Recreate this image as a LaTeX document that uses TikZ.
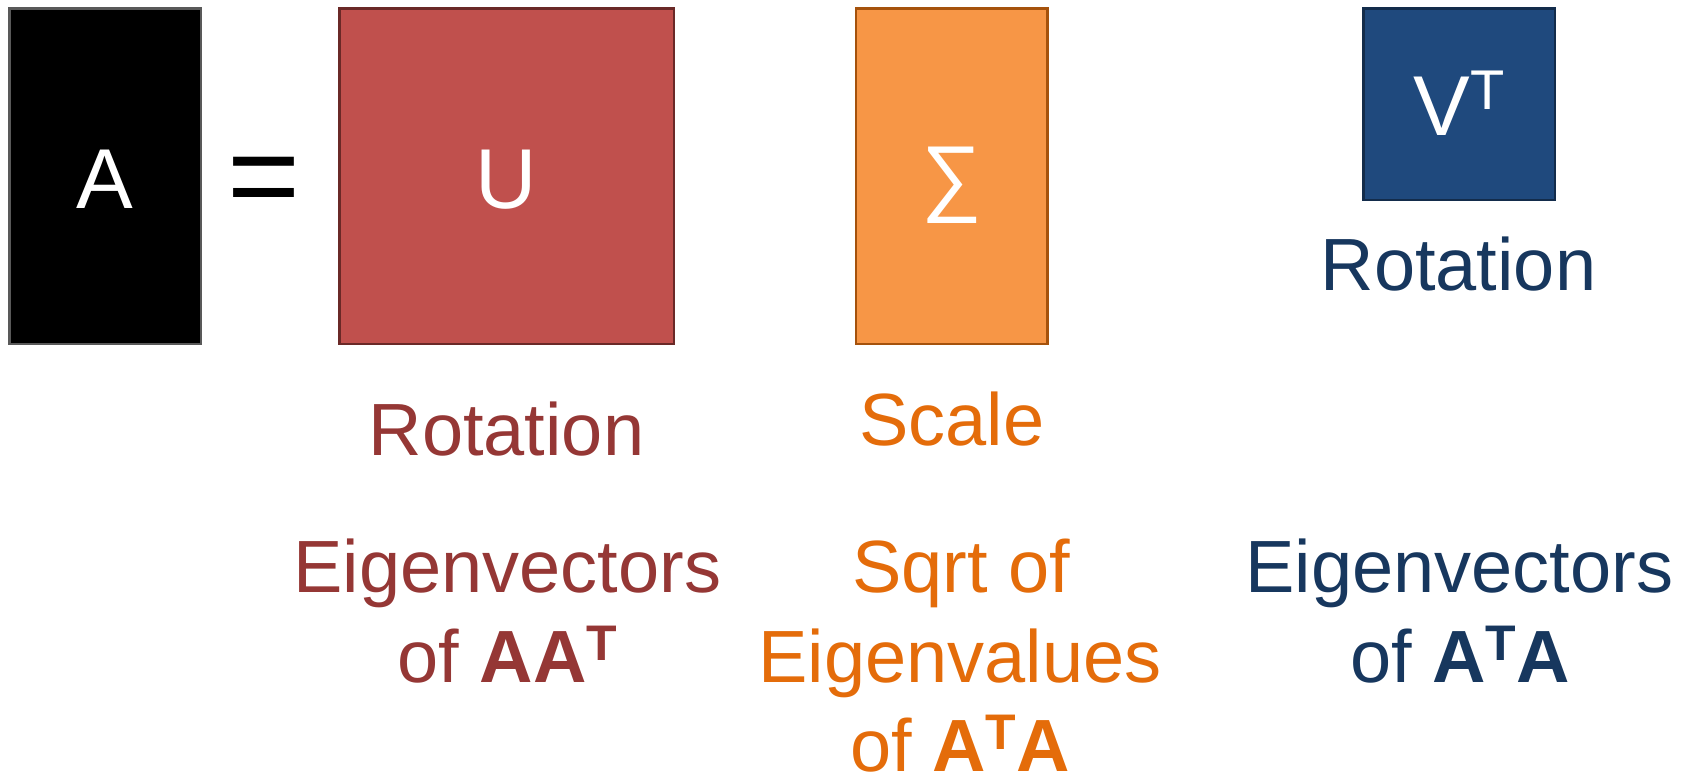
\documentclass[tikz,border=0pt]{standalone}
\usepackage{fontspec}
\setmainfont{Liberation Sans}
\newcommand\fsz[1]{\fontsize{#1}{#1}\selectfont}
\newcommand\supT[2]{\raisebox{#2}{\fsz{#1}T}}

\definecolor{redfill}{HTML}{C0504D}
\definecolor{redline}{HTML}{6A2927}
\definecolor{orangefill}{HTML}{F79646}
\definecolor{orangeline}{HTML}{A5520C}
\definecolor{bluefill}{HTML}{1F497D}
\definecolor{blueline}{HTML}{132C4B}
\definecolor{greyline}{HTML}{595959}
\definecolor{redtext}{HTML}{953735}
\definecolor{orangetext}{HTML}{E46C0A}
\definecolor{bluetext}{HTML}{17375E}

\begin{document}
\begin{tikzpicture}[x=0.5pt,y=-0.5pt,
  matbox/.style={draw, line width=1.25pt, inner sep=0pt, minimum width=95.75pt},
  letter/.style={inner sep=0pt, anchor=base, text=white, font=\fsz{42.5}},
  label/.style={inner sep=0pt, anchor=base, font=\fsz{37}}]
\useasboundingbox (0,0) rectangle (1686,775);

% matrices
\node[matbox, fill=black, draw=greyline, minimum height=167.6pt] (boxA) at (105,176.2) {};
\node[matbox, fill=redfill, draw=redline, minimum width=167.25pt, minimum height=167.6pt] (boxU) at (506.7,176.2) {};
\node[matbox, fill=orangefill, draw=orangeline, minimum height=167.6pt] (boxS) at (951.5,176.2) {};
\node[matbox, fill=bluefill, draw=blueline, minimum height=95.6pt] (boxV) at (1459,104.2) {};

% symbols inside the matrices
\node[letter] (symA) at (104.7,208.3) {A};
\node[inner sep=0pt, anchor=base, font=\fsz{62.5}] (eq) at (264,219) {=};
\node[letter] (symU) at (506,208.3) {U};
\node[letter, anchor=center] (symS) at (952,185.5) {∑};
\node[letter, anchor=base west] (symV) at (1413,136) {V\supT{28}{13pt}};

% role of each factor
\node[label, text=bluetext] (rotV) at (1458.5,291) {Rotation};
\node[label, text=redtext] (rotU) at (506.5,455.7) {Rotation};
\node[label, text=orangetext] (scl) at (952,445) {Scale};

% what each factor is made of
\node[label, text=redtext] (eigU1) at (507.5,592.7) {Eigenvectors};
\node[label, text=redtext] (eigU2) at (507.5,682.7) {of \textbf{AA\supT{25}{11.35pt}}};

\node[label, text=orangetext] (eigS1) at (961,592.7) {Sqrt of};
\node[label, text=orangetext] (eigS2) at (960,682.7) {Eigenvalues};
\node[label, text=orangetext] (eigS3) at (960,771.7) {of \textbf{A\supT{25}{11.35pt}A}};

\node[label, text=bluetext] (eigV1) at (1459.5,592.7) {Eigenvectors};
\node[label, text=bluetext] (eigV2) at (1460,682.7) {of \textbf{A\supT{25}{11.35pt}A}};
\end{tikzpicture}
\end{document}
